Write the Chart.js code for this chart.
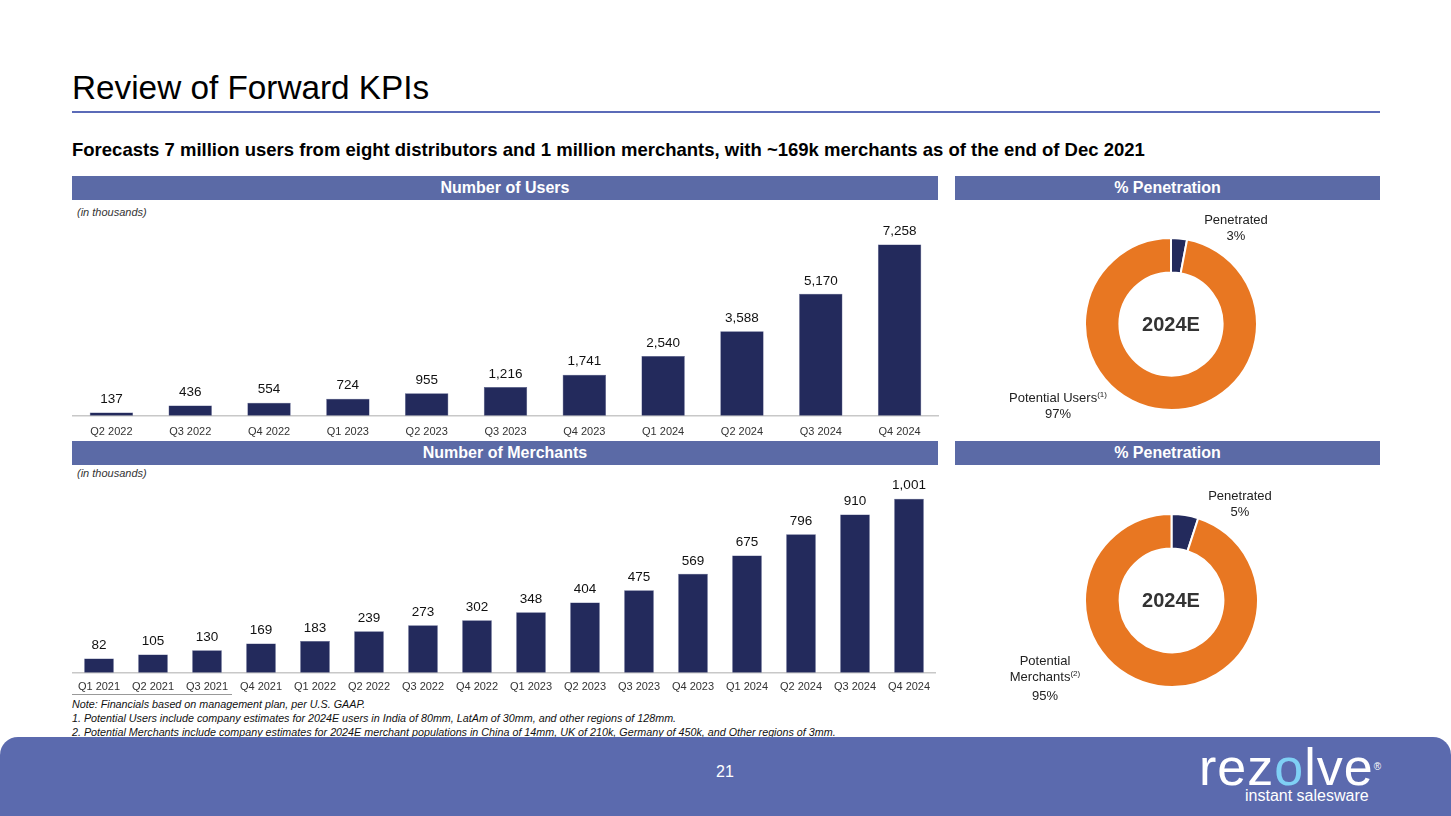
<!DOCTYPE html>
<html>
<head>
<meta charset="utf-8">
<script src="https://cdn.jsdelivr.net/npm/chart.js@4"></script>
<style>
  html, body { margin: 0; padding: 0; background: #fff; }
  body { width: 1451px; height: 816px; position: relative; overflow: hidden;
         font-family: Arial, "Liberation Sans", sans-serif; color: #000; }
  .abs { position: absolute; }
  .title { left: 72px; top: 68px; font-size: 33.3px; line-height: 40px; }
  .rule { left: 72px; top: 111px; width: 1308px; height: 2px; background: #5b6bb8; }
  .sub { left: 72px; top: 138px; font-size: 18.5px; font-weight: bold; line-height: 24px; }
  .hdr { background: #5b6aa6; color: #fff; font-weight: bold; font-size: 16px;
         height: 24px; line-height: 24px; text-align: center; }
  .unit { left: 77px; font-size: 11px; font-style: italic; color: #333; }
  .lbl { font-size: 13px; color: #222; text-align: center; line-height: 16px; }
  .ctr { font-size: 20px; font-weight: bold; color: #333; text-align: center; }
  .note { left: 72px; font-size: 10.75px; font-style: italic; color: #111; line-height: 14px; }
  .footer { left: 0; top: 737px; width: 1451px; height: 79px; background: #5b6aae;
            border-radius: 18px 18px 0 0; }
  sup { font-size: 8px; line-height: 0; vertical-align: 5px; }
</style>
</head>
<body>
<div class="abs title">Review of Forward KPIs</div>
<div class="abs rule"></div>
<div class="abs sub">Forecasts 7 million users from eight distributors and 1 million merchants, with ~169k merchants as of the end of Dec 2021</div>

<div class="abs hdr" style="left:72px;top:176px;width:866px;">Number of Users</div>
<div class="abs hdr" style="left:955px;top:176px;width:425px;">% Penetration</div>
<div class="abs unit" style="top:206px;">(in thousands)</div>

<div class="abs hdr" style="left:72px;top:441px;width:866px;">Number of Merchants</div>
<div class="abs hdr" style="left:955px;top:441px;width:425px;">% Penetration</div>
<div class="abs unit" style="top:467px;">(in thousands)</div>

<div class="abs" style="left:72px;top:220px;width:867px;height:221px;"><canvas id="users"></canvas></div>
<div class="abs" style="left:72px;top:478px;width:864px;height:216px;"><canvas id="merchants"></canvas></div>

<div class="abs" style="left:1084px;top:237px;width:174px;height:174px;"><canvas id="userPie"></canvas></div>
<div class="abs" style="left:1084px;top:513px;width:175px;height:175px;"><canvas id="merchPie"></canvas></div>

<div class="abs ctr" style="left:1121px;top:313px;width:100px;">2024E</div>
<div class="abs ctr" style="left:1121px;top:589px;width:100px;">2024E</div>

<div class="abs lbl" style="left:1186px;top:212px;width:100px;">Penetrated<br>3%</div>
<div class="abs lbl" style="left:988px;top:390px;width:140px;">Potential Users<sup>(1)</sup><br>97%</div>
<div class="abs lbl" style="left:1190px;top:488px;width:100px;">Penetrated<br>5%</div>
<div class="abs lbl" style="left:985px;top:653px;width:120px;">Potential<br>Merchants<sup>(2)</sup><br><span style="position:relative;top:3px;">95%</span></div>

<div class="abs" style="left:72px;top:694px;width:160px;height:1px;background:#999;"></div>
<div class="abs note" style="top:697px;">Note: Financials based on management plan, per U.S. GAAP.</div>
<div class="abs note" style="top:711px;">1. Potential Users include company estimates for 2024E users in India of 80mm, LatAm of 30mm, and other regions of 128mm.</div>
<div class="abs note" style="top:725px;">2. Potential Merchants include company estimates for 2024E merchant populations in China of 14mm, UK of 210k, Germany of 450k, and Other regions of 3mm.</div>

<div class="abs footer"></div>
<div class="abs" style="left:700px;top:763px;width:50px;text-align:center;color:#fff;font-size:16px;">21</div>
<div class="abs" style="left:1199px;top:741px;color:#fff;font-size:52px;line-height:52px;letter-spacing:1px;">rez<span style="color:#7fd0f5">o</span>lve<span style="font-size:10px;vertical-align:top;">®</span></div>
<div class="abs" style="left:1245px;top:786px;color:#fff;font-size:16px;line-height:20px;">instant salesware</div>

<script>
// ---- data ----
const userQuarters = ['Q2 2022', 'Q3 2022', 'Q4 2022', 'Q1 2023', 'Q2 2023', 'Q3 2023',
  'Q4 2023', 'Q1 2024', 'Q2 2024', 'Q3 2024', 'Q4 2024'];
const userValues = [137, 436, 554, 724, 955, 1216, 1741, 2540, 3588, 5170, 7258];

const merchQuarters = ['Q1 2021', 'Q2 2021', 'Q3 2021', 'Q4 2021', 'Q1 2022', 'Q2 2022',
  'Q3 2022', 'Q4 2022', 'Q1 2023', 'Q2 2023', 'Q3 2023', 'Q4 2023', 'Q1 2024', 'Q2 2024',
  'Q3 2024', 'Q4 2024'];
const merchValues = [82, 105, 130, 169, 183, 239, 273, 302, 348, 404, 475, 569, 675, 796, 910, 1001];

const sliceLabels = ['Penetrated', 'Potential'];
const userShare = [3, 97];
const merchShare = [5, 95];

const NAVY = '#232a5c';
const ORANGE = '#e87722';

// value labels above bars
const barLabels = {
  id: 'barLabels',
  afterDatasetsDraw(chart) {
    const ctx = chart.ctx;
    const meta = chart.getDatasetMeta(0);
    const vals = chart.data.datasets[0].data;
    ctx.save();
    ctx.font = '13.5px Arial, "Liberation Sans", sans-serif';
    ctx.fillStyle = '#111';
    ctx.textAlign = 'center';
    ctx.textBaseline = 'middle';
    meta.data.forEach((bar, i) => {
      ctx.fillText(vals[i].toLocaleString('en-US'), bar.x, bar.y - 13);
    });
    ctx.restore();
  }
};

function barChart(id, labels, values, yMax, tickPad) {
  return new Chart(document.getElementById(id), {
    type: 'bar',
    data: {
      labels: labels,
      datasets: [{
        data: values,
        backgroundColor: NAVY,
        borderColor: '#4a5080',
        borderWidth: 0.5,
        categoryPercentage: 1,
        barPercentage: 0.55
      }]
    },
    options: {
      responsive: true,
      maintainAspectRatio: false,
      animation: false,
      layout: { padding: 0 },
      plugins: { legend: { display: false }, tooltip: { enabled: false } },
      scales: {
        x: {
          grid: { display: false },
          border: { color: '#c8c8c8', width: 1.5 },
          ticks: { color: '#333', font: { size: 11, family: 'Arial, "Liberation Sans", sans-serif' },
                   padding: tickPad, maxRotation: 0, autoSkip: false }
        },
        y: { display: false, min: 0, max: yMax }
      }
    },
    plugins: [barLabels]
  });
}

function donut(id, values) {
  return new Chart(document.getElementById(id), {
    type: 'doughnut',
    data: {
      labels: sliceLabels,
      datasets: [{
        data: values,
        backgroundColor: [NAVY, ORANGE],
        borderColor: '#fff',
        borderWidth: 2
      }]
    },
    options: {
      responsive: true,
      maintainAspectRatio: false,
      animation: false,
      cutout: '60%',
      layout: { padding: 0 },
      plugins: { legend: { display: false }, tooltip: { enabled: false } }
    }
  });
}

barChart('users', userQuarters, userValues, 8300, 2);
barChart('merchants', merchQuarters, merchValues, 1120, 0);
donut('userPie', userShare);
donut('merchPie', merchShare);
</script>
</body>
</html>
